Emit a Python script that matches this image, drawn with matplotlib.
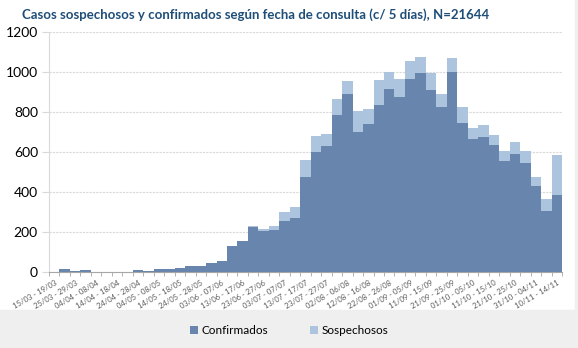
import numpy as np
import matplotlib.pyplot as plt
from matplotlib.patches import Rectangle

plt.rcParams['font.family'] = ['Lato', 'DejaVu Sans']

# casos por periodo de 5 dias, 15/03 a 14/11
confirmados = [3, 18, 8, 10, 2, 2, 3, 2, 14, 8,
               18, 16, 22, 33, 30, 45, 55, 133, 155, 225,
               205, 210, 255, 270, 478, 600, 632, 786, 890, 703,
               743, 836, 916, 878, 966, 998, 910, 825, 1001, 748,
               666, 676, 636, 555, 591, 546, 431, 308, 386]
sospechosos = [0, 0, 0, 0, 0, 0, 0, 0, 0, 0,
               0, 0, 0, 0, 0, 0, 0, 0, 0, 5,
               12, 20, 45, 55, 83, 81, 58, 82, 68, 105,
               75, 125, 84, 87, 90, 80, 88, 65, 70, 77,
               55, 59, 49, 50, 59, 60, 45, 60, 202]
# etiquetas cada dos periodos
etiquetas = ["15/03 - 19/03", "25/03 - 29/03", "04/04 - 08/04", "14/04 - 18/04",
             "24/04 - 28/04", "04/05 - 08/05", "14/05 - 18/05", "24/05 - 28/05",
             "03/06 - 07/06", "13/06 - 17/06", "23/06 - 27/06", "03/07 - 07/07",
             "13/07 - 17/07", "23/07 - 27/07", "02/08 - 06/08", "12/08 - 16/08",
             "22/08 - 26/08", "01/09 - 05/09", "11/09 - 15/09", "21/09 - 25/09",
             "01/10 - 05/10", "11/10 - 15/10", "21/10 - 25/10", "31/10 - 04/11",
             "10/11 - 14/11"]

x = np.arange(len(confirmados))

fig = plt.figure(figsize=(5.78, 3.48), dpi=100)
fig.patches.append(Rectangle((0, 0), 1, 38 / 348, transform=fig.transFigure,
                             color='#efefef', zorder=-1))
fig.patches.append(Rectangle((575 / 578, 0), 3 / 578, 1, transform=fig.transFigure,
                             color='#efefef', zorder=-1))
ax = fig.add_axes([49 / 578, (348 - 272.3) / 348, 513 / 578, 240 / 348])

ax.bar(x, confirmados, width=1.0, color='#6785ad', label='Confirmados', zorder=2)
ax.bar(x, sospechosos, width=1.0, bottom=confirmados, color='#adc4df',
       label='Sospechosos', zorder=2)

ax.set_xlim(-0.5, len(x) - 0.5)
ax.set_ylim(0, 1200)
ax.set_yticks(range(0, 1201, 200))
ax.yaxis.grid(True, color='#d9d9d9', linestyle=(0, (2, 1)), linewidth=0.8, zorder=0)

ax.set_xticks(x[::2])
ax.set_xticklabels(etiquetas, rotation=30, ha='right', rotation_mode='anchor',
                   fontsize=5.5, color='#595959')
ax.set_xticks(np.arange(-0.5, len(x)), minor=True)
ax.tick_params(axis='x', which='major', length=0, pad=5)
ax.tick_params(axis='x', which='minor', length=3, color='#a6a6a6')
ax.tick_params(axis='y', length=5, color='#d9d9d9', labelsize=10, pad=3)

for s in ['top', 'right']:
    ax.spines[s].set_visible(False)
ax.spines['left'].set_color('#d9d9d9')
ax.spines['bottom'].set_color('#a6a6a6')

fig.text(0.443, 0.958, 'Casos sospechosos y confirmados según fecha de consulta (c/ 5 días), N=21644',
         ha='center', va='center', fontsize=9.5, fontweight='bold', color='#1f4e79')

fig.legend(loc='center', bbox_to_anchor=(0.5, 0.05), ncol=2, frameon=False,
           fontsize=8.5, handlelength=0.7, handleheight=0.7, columnspacing=3.5,
           handletextpad=0.3)

fig.savefig('out.png', dpi=100)
